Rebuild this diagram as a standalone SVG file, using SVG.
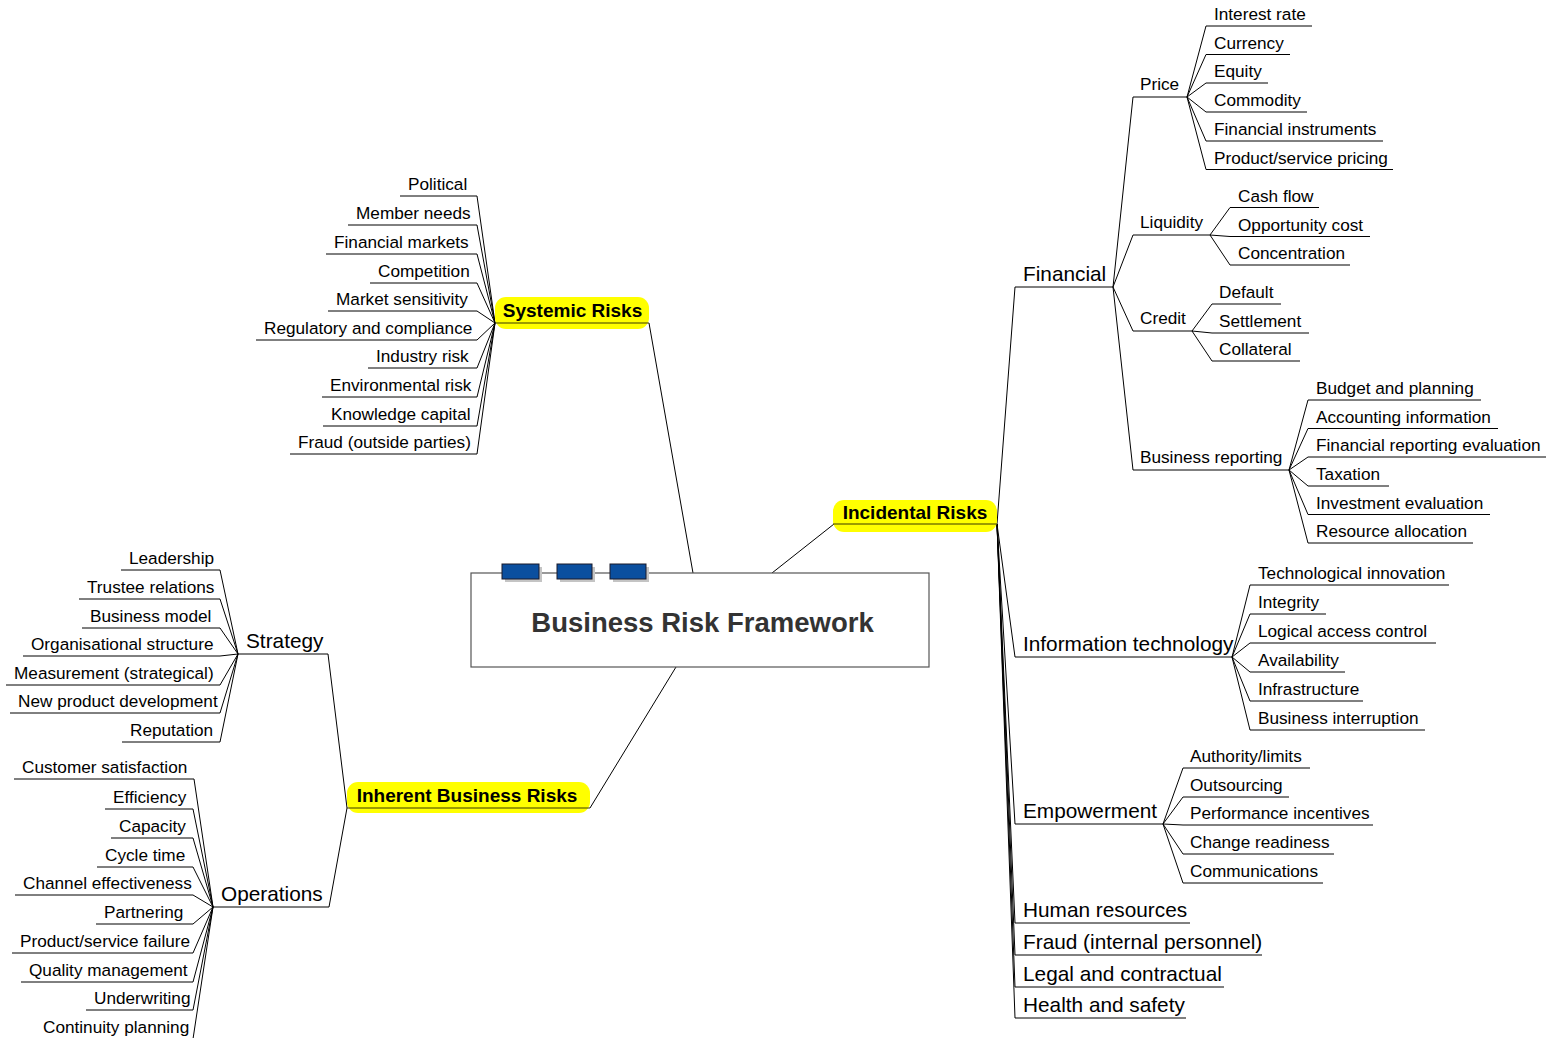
<svg xmlns="http://www.w3.org/2000/svg" width="1549" height="1038" viewBox="0 0 1549 1038">
<style>
text{font-family:"Liberation Sans",Arial,sans-serif;fill:#000}
.l{font-size:17.2px;transform:translateY(-1px)}
.m{font-size:20.8px;transform:translateY(-1px)}
.b{font-size:19px;font-weight:bold}
.t{font-size:27.5px;font-weight:bold;fill:#333}
line,path{stroke:#000;stroke-width:1;fill:none}
.u{stroke:#000;stroke-width:1}
.pill{fill:#ffff00}
.pu{stroke:#3a3a00;stroke-width:1.2}
.tab{fill:#0b4f9f;stroke:#1a1a2a;stroke-width:1}
.sh{fill:#c4c4c4}
</style>
<rect width="1549" height="1038" fill="#fff"/>
<g id="connectors">
<line x1="649" y1="323" x2="693" y2="573"/>
<line x1="772" y1="573" x2="834" y2="524"/>
<line x1="676" y1="667" x2="590" y2="808"/>
<line x1="347" y1="808" x2="328" y2="654"/>
<line x1="347" y1="808" x2="329" y2="907"/>
<path d="M495 323L477 196M495 323L477 225M495 323L477 254M495 323L477 283M495 323L477 311M495 323L477 340M495 323L477 368M495 323L477 397M495 323L477 426M495 323L477 454"/>
<path d="M238 654L220 570M238 654L220 599M238 654L220 628M238 654L220 656M238 654L220 685M238 654L220 713M238 654L220 742"/>
<path d="M213 907L194 779M213 907L193 809M213 907L193 838M213 907L193 867M213 907L193 895M213 907L193 924M213 907L193 953M213 907L193 982M213 907L193 1010M213 907L193 1039"/>
<path d="M997 524L1015 287M997 524L1015 657M997 524L1015 824M997 524L1015 923M997 524L1015 955M997 524L1015 987M997 524L1015 1018"/>
<path d="M1113 287L1133 97M1113 287L1133 235M1113 287L1133 331M1113 287L1133 470"/>
<path d="M1187 97L1206 26M1187 97L1206 54.5M1187 97L1206 83M1187 97L1206 112M1187 97L1206 141M1187 97L1206 169.5"/>
<path d="M1210 235L1230 207.5M1210 235L1230 236.5M1210 235L1230 265"/>
<path d="M1192 331L1212 304M1192 331L1212 333M1192 331L1212 361"/>
<path d="M1289 470L1308 400M1289 470L1308 428.5M1289 470L1308 457M1289 470L1308 486M1289 470L1308 514.5M1289 470L1308 543"/>
<path d="M1232 657L1250 585M1232 657L1250 614M1232 657L1250 643M1232 657L1250 672M1232 657L1250 701M1232 657L1250 730"/>
<path d="M1163 824L1183 768M1163 824L1183 797M1163 824L1183 825M1163 824L1183 854M1163 824L1183 883"/>
</g>
<g id="business-risk-framework">
<rect x="471" y="573" width="458" height="94" fill="#fff" stroke="#555" stroke-width="1.2"/>
<rect class="sh" x="505" y="567" width="37" height="15"/>
<rect class="tab" x="502" y="564" width="37" height="15"/>
<rect class="sh" x="560" y="567" width="35" height="15"/>
<rect class="tab" x="557" y="564" width="35" height="15"/>
<rect class="sh" x="613" y="567" width="36" height="15"/>
<rect class="tab" x="610" y="564" width="36" height="15"/>
<text class="t" x="702.5" y="632" text-anchor="middle">Business Risk Framework</text>
</g>
<g id="systemic-risks">
<rect class="pill" x="495" y="297" width="154" height="32" rx="11"/>
<line class="pu" x1="495" y1="323" x2="649" y2="323"/>
<text class="b" x="572.5" y="317" text-anchor="middle">Systemic Risks</text>
</g>
<g id="incidental-risks">
<rect class="pill" x="833" y="500" width="164" height="32" rx="11"/>
<line class="pu" x1="833" y1="524" x2="997" y2="524"/>
<text class="b" x="915" y="519" text-anchor="middle">Incidental Risks</text>
</g>
<g id="inherent-business-risks">
<rect class="pill" x="347" y="782" width="243" height="31" rx="11"/>
<line class="pu" x1="347" y1="808" x2="590" y2="808"/>
<text class="b" x="467" y="802" text-anchor="middle">Inherent Business Risks</text>
</g>
<g id="political"><text class="l" x="408" y="191">Political</text><line class="u" x1="400" y1="196" x2="477" y2="196"/></g>
<g id="member-needs"><text class="l" x="356" y="220">Member needs</text><line class="u" x1="348" y1="225" x2="477" y2="225"/></g>
<g id="financial-markets"><text class="l" x="334" y="249">Financial markets</text><line class="u" x1="326" y1="254" x2="477" y2="254"/></g>
<g id="competition"><text class="l" x="378" y="278">Competition</text><line class="u" x1="370" y1="283" x2="477" y2="283"/></g>
<g id="market-sensitivity"><text class="l" x="336" y="306">Market sensitivity</text><line class="u" x1="328" y1="311" x2="477" y2="311"/></g>
<g id="regulatory-and-compliance"><text class="l" x="264" y="335">Regulatory and compliance</text><line class="u" x1="256" y1="340" x2="477" y2="340"/></g>
<g id="industry-risk"><text class="l" x="376" y="363">Industry risk</text><line class="u" x1="368" y1="368" x2="477" y2="368"/></g>
<g id="environmental-risk"><text class="l" x="330" y="392">Environmental risk</text><line class="u" x1="322" y1="397" x2="477" y2="397"/></g>
<g id="knowledge-capital"><text class="l" x="331" y="421">Knowledge capital</text><line class="u" x1="323" y1="426" x2="477" y2="426"/></g>
<g id="fraud-outside-parties"><text class="l" x="298" y="449">Fraud (outside parties)</text><line class="u" x1="290" y1="454" x2="477" y2="454"/></g>
<g id="strategy"><text class="m" x="246" y="649">Strategy</text><line class="u" x1="238" y1="654" x2="328" y2="654"/></g>
<g id="leadership"><text class="l" x="129" y="565">Leadership</text><line class="u" x1="121" y1="570" x2="220" y2="570"/></g>
<g id="trustee-relations"><text class="l" x="87" y="594">Trustee relations</text><line class="u" x1="79" y1="599" x2="220" y2="599"/></g>
<g id="business-model"><text class="l" x="90" y="623">Business model</text><line class="u" x1="82" y1="628" x2="220" y2="628"/></g>
<g id="organisational-structure"><text class="l" x="31" y="651">Organisational structure</text><line class="u" x1="23" y1="656" x2="220" y2="656"/></g>
<g id="measurement-strategical"><text class="l" x="14" y="680">Measurement (strategical)</text><line class="u" x1="6" y1="685" x2="220" y2="685"/></g>
<g id="new-product-development"><text class="l" x="18" y="708">New product development</text><line class="u" x1="10" y1="713" x2="220" y2="713"/></g>
<g id="reputation"><text class="l" x="130" y="737">Reputation</text><line class="u" x1="122" y1="742" x2="220" y2="742"/></g>
<g id="operations"><text class="m" x="221" y="902">Operations</text><line class="u" x1="213" y1="907" x2="329" y2="907"/></g>
<g id="customer-satisfaction"><text class="l" x="22" y="774">Customer satisfaction</text><line class="u" x1="14" y1="779" x2="194" y2="779"/></g>
<g id="efficiency"><text class="l" x="113" y="804">Efficiency</text><line class="u" x1="105" y1="809" x2="193" y2="809"/></g>
<g id="capacity"><text class="l" x="119" y="833">Capacity</text><line class="u" x1="111" y1="838" x2="193" y2="838"/></g>
<g id="cycle-time"><text class="l" x="105" y="862">Cycle time</text><line class="u" x1="97" y1="867" x2="193" y2="867"/></g>
<g id="channel-effectiveness"><text class="l" x="23" y="890">Channel effectiveness</text><line class="u" x1="15" y1="895" x2="193" y2="895"/></g>
<g id="partnering"><text class="l" x="104" y="919">Partnering</text><line class="u" x1="96" y1="924" x2="193" y2="924"/></g>
<g id="product-service-failure"><text class="l" x="20" y="948">Product/service failure</text><line class="u" x1="12" y1="953" x2="193" y2="953"/></g>
<g id="quality-management"><text class="l" x="29" y="977">Quality management</text><line class="u" x1="21" y1="982" x2="193" y2="982"/></g>
<g id="underwriting"><text class="l" x="94" y="1005">Underwriting</text><line class="u" x1="86" y1="1010" x2="193" y2="1010"/></g>
<g id="continuity-planning"><text class="l" x="43" y="1034">Continuity planning</text><line class="u" x1="35" y1="1039" x2="193" y2="1039"/></g>
<g id="financial"><text class="m" x="1023" y="282">Financial</text><line class="u" x1="1015" y1="287" x2="1113" y2="287"/></g>
<g id="price"><text class="l" x="1140" y="91">Price</text><line class="u" x1="1133" y1="97" x2="1187" y2="97"/></g>
<g id="interest-rate"><text class="l" x="1214" y="21">Interest rate</text><line class="u" x1="1206" y1="26" x2="1312" y2="26"/></g>
<g id="currency"><text class="l" x="1214" y="49.5">Currency</text><line class="u" x1="1206" y1="54.5" x2="1290" y2="54.5"/></g>
<g id="equity"><text class="l" x="1214" y="78">Equity</text><line class="u" x1="1206" y1="83" x2="1268" y2="83"/></g>
<g id="commodity"><text class="l" x="1214" y="107">Commodity</text><line class="u" x1="1206" y1="112" x2="1307" y2="112"/></g>
<g id="financial-instruments"><text class="l" x="1214" y="136">Financial instruments</text><line class="u" x1="1206" y1="141" x2="1383" y2="141"/></g>
<g id="product-service-pricing"><text class="l" x="1214" y="164.5">Product/service pricing</text><line class="u" x1="1206" y1="169.5" x2="1393" y2="169.5"/></g>
<g id="liquidity"><text class="l" x="1140" y="229">Liquidity</text><line class="u" x1="1133" y1="235" x2="1210" y2="235"/></g>
<g id="cash-flow"><text class="l" x="1238" y="202.5">Cash flow</text><line class="u" x1="1230" y1="207.5" x2="1319" y2="207.5"/></g>
<g id="opportunity-cost"><text class="l" x="1238" y="231.5">Opportunity cost</text><line class="u" x1="1230" y1="236.5" x2="1370" y2="236.5"/></g>
<g id="concentration"><text class="l" x="1238" y="260">Concentration</text><line class="u" x1="1230" y1="265" x2="1350" y2="265"/></g>
<g id="credit"><text class="l" x="1140" y="325">Credit</text><line class="u" x1="1133" y1="331" x2="1192" y2="331"/></g>
<g id="default"><text class="l" x="1219" y="299">Default</text><line class="u" x1="1212" y1="304" x2="1281" y2="304"/></g>
<g id="settlement"><text class="l" x="1219" y="328">Settlement</text><line class="u" x1="1212" y1="333" x2="1309" y2="333"/></g>
<g id="collateral"><text class="l" x="1219" y="356">Collateral</text><line class="u" x1="1212" y1="361" x2="1300" y2="361"/></g>
<g id="business-reporting"><text class="l" x="1140" y="464">Business reporting</text><line class="u" x1="1133" y1="470" x2="1289" y2="470"/></g>
<g id="budget-and-planning"><text class="l" x="1316" y="395">Budget and planning</text><line class="u" x1="1308" y1="400" x2="1481" y2="400"/></g>
<g id="accounting-information"><text class="l" x="1316" y="423.5">Accounting information</text><line class="u" x1="1308" y1="428.5" x2="1498" y2="428.5"/></g>
<g id="financial-reporting-evaluation"><text class="l" x="1316" y="452">Financial reporting evaluation</text><line class="u" x1="1308" y1="457" x2="1546" y2="457"/></g>
<g id="taxation"><text class="l" x="1316" y="481">Taxation</text><line class="u" x1="1308" y1="486" x2="1389" y2="486"/></g>
<g id="investment-evaluation"><text class="l" x="1316" y="509.5">Investment evaluation</text><line class="u" x1="1308" y1="514.5" x2="1490" y2="514.5"/></g>
<g id="resource-allocation"><text class="l" x="1316" y="538">Resource allocation</text><line class="u" x1="1308" y1="543" x2="1473" y2="543"/></g>
<g id="information-technology"><text class="m" x="1023" y="652">Information technology</text><line class="u" x1="1015" y1="657" x2="1232" y2="657"/></g>
<g id="technological-innovation"><text class="l" x="1258" y="580">Technological innovation</text><line class="u" x1="1250" y1="585" x2="1449" y2="585"/></g>
<g id="integrity"><text class="l" x="1258" y="609">Integrity</text><line class="u" x1="1250" y1="614" x2="1326" y2="614"/></g>
<g id="logical-access-control"><text class="l" x="1258" y="638">Logical access control</text><line class="u" x1="1250" y1="643" x2="1436" y2="643"/></g>
<g id="availability"><text class="l" x="1258" y="667">Availability</text><line class="u" x1="1250" y1="672" x2="1345" y2="672"/></g>
<g id="infrastructure"><text class="l" x="1258" y="696">Infrastructure</text><line class="u" x1="1250" y1="701" x2="1363" y2="701"/></g>
<g id="business-interruption"><text class="l" x="1258" y="725">Business interruption</text><line class="u" x1="1250" y1="730" x2="1425" y2="730"/></g>
<g id="empowerment"><text class="m" x="1023" y="819">Empowerment</text><line class="u" x1="1015" y1="824" x2="1163" y2="824"/></g>
<g id="authority-limits"><text class="l" x="1190" y="763">Authority/limits</text><line class="u" x1="1183" y1="768" x2="1310" y2="768"/></g>
<g id="outsourcing"><text class="l" x="1190" y="792">Outsourcing</text><line class="u" x1="1183" y1="797" x2="1289" y2="797"/></g>
<g id="performance-incentives"><text class="l" x="1190" y="820">Performance incentives</text><line class="u" x1="1183" y1="825" x2="1373" y2="825"/></g>
<g id="change-readiness"><text class="l" x="1190" y="849">Change readiness</text><line class="u" x1="1183" y1="854" x2="1334" y2="854"/></g>
<g id="communications"><text class="l" x="1190" y="878">Communications</text><line class="u" x1="1183" y1="883" x2="1323" y2="883"/></g>
<g id="human-resources"><text class="m" x="1023" y="918">Human resources</text><line class="u" x1="1015" y1="923" x2="1190" y2="923"/></g>
<g id="fraud-internal-personnel"><text class="m" x="1023" y="950">Fraud (internal personnel)</text><line class="u" x1="1015" y1="955" x2="1262" y2="955"/></g>
<g id="legal-and-contractual"><text class="m" x="1023" y="982">Legal and contractual</text><line class="u" x1="1015" y1="987" x2="1224" y2="987"/></g>
<g id="health-and-safety"><text class="m" x="1023" y="1013">Health and safety</text><line class="u" x1="1015" y1="1018" x2="1186" y2="1018"/></g>
</svg>
